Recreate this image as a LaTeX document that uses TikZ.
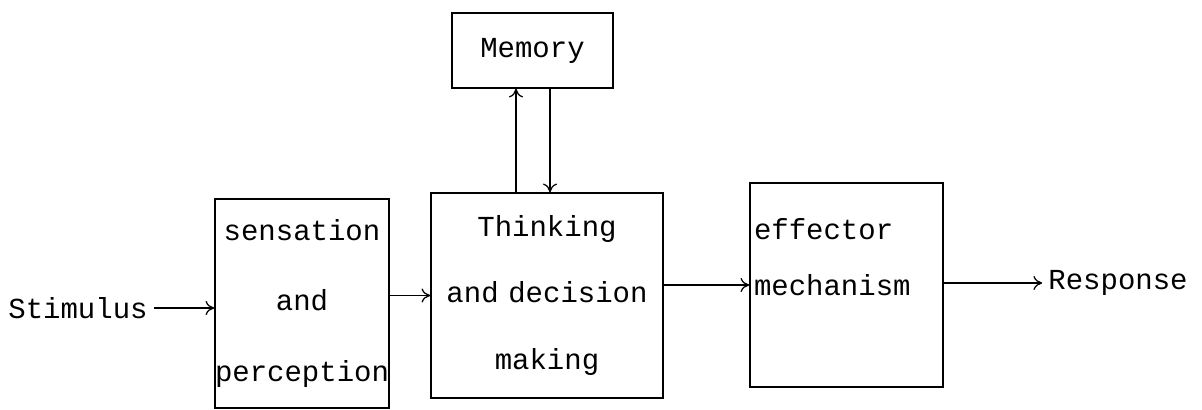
\documentclass[tikz,border=0pt]{standalone}
\usepackage{fontspec}
\setmonofont{Liberation Mono}
\usetikzlibrary{arrows.meta}
\newcommand{\typew}[1]{\fontsize{16.5}{#1}\selectfont\ttfamily}
\begin{document}
\begin{tikzpicture}[
    box/.style={draw, line width=0.8pt, inner sep=0pt},
    link/.style={-{To[length=5pt,width=8pt]}, line width=0.7pt}
  ]
    \useasboundingbox[fill=white] (0,0) rectangle (24.04,8.2);
    % blocks
    \node[box, minimum width=3.22cm, minimum height=1.5cm, font=\typew{20}] (mem) at (10.65,7.19) {Memory};
    \node[box, minimum width=3.48cm, minimum height=4.18cm, text width=3.48cm, align=center, font=\typew{40}] (sens) at (6.04,2.13) {sensation\\and\\perception};
    \node[box, minimum width=4.64cm, minimum height=4.10cm, text width=4.64cm, align=center, font=\typew{37.6}] (think) at (10.94,2.29) {Thinking\\and decision\\making};
    \node[box, minimum width=3.86cm, minimum height=4.08cm, text width=3.70cm, inner xsep=0.08cm, align=left, font=\typew{32}] (eff) at (16.93,2.50) {effector\\mechanism\\\mbox{}};
    % input and output
    \node[font=\typew{20}] (stim) at (1.56,2.04) {Stimulus};
    \node[font=\typew{20}] (resp) at (22.36,2.54) {Response};
    % connectors
    \draw[link] (stim.east) -- (stim.east -| sens.west);
    \draw[link] (sens.east |- think.west) -- (think.west);
    \draw[link] (think.east |- eff.west) -- (eff.west);
    \draw[link] (eff.east |- resp.west) -- (resp.west);
    \draw[link] ([xshift=-0.33cm]mem.south |- think.north) -- ([xshift=-0.33cm]mem.south);
    \draw[link] ([xshift=0.35cm]mem.south) -- ([xshift=0.35cm]mem.south |- think.north);
\end{tikzpicture}
\end{document}
